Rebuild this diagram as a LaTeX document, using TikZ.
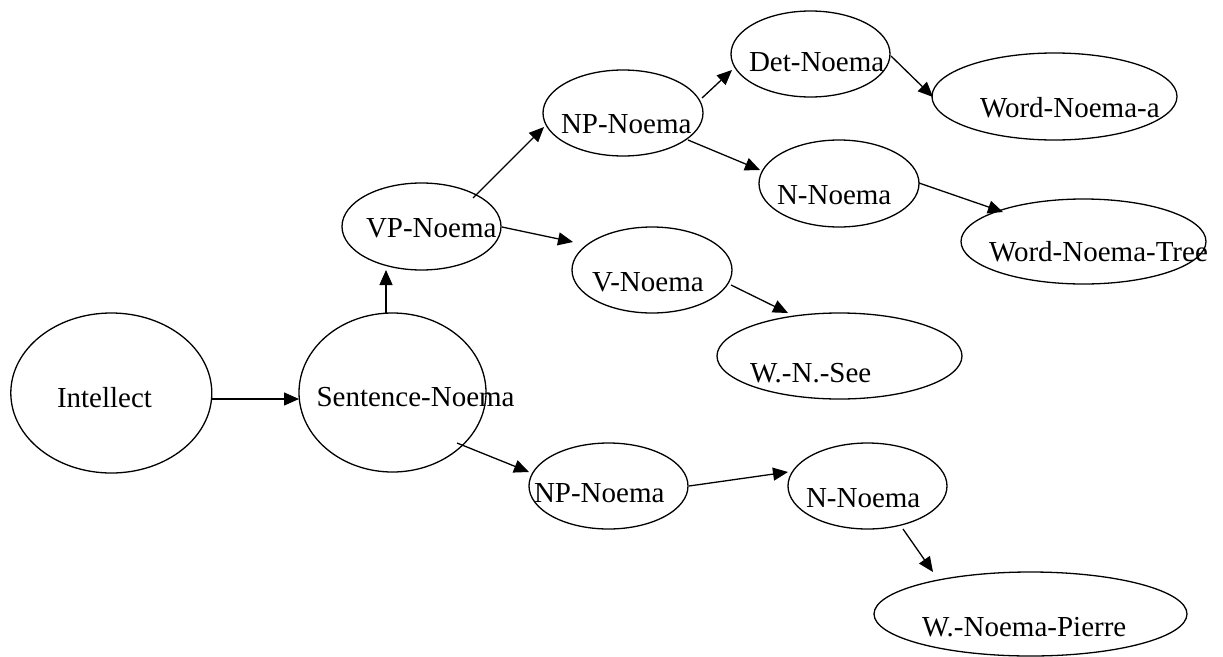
\documentclass[tikz,border=0pt]{standalone}
\usepackage{fontspec}
\setmainfont{Liberation Serif}
\usetikzlibrary{arrows.meta,shapes.geometric}
\begin{document}
\begin{tikzpicture}[x=1pt,y=-1pt,
  oval/.style 2 args={draw, ellipse, line width=1.3pt, inner sep=0pt, outer sep=0pt, minimum width=#1pt, minimum height=#2pt},
  lbl/.style={anchor=base west, inner sep=0pt, outer sep=0pt, font=\fontsize{29}{34}\selectfont},
  arr/.style={line width=1.3pt, -{Triangle[length=15pt,width=13pt]}}]
\useasboundingbox (0,0) rectangle (1223,656);
% ellipses
\node[oval={201}{160}] (int) at (111.3,393) {};
\node[oval={187}{159}] (sn) at (392.5,392.5) {};
\node[oval={159}{87}] (vp) at (421.5,226.5) {};
\node[oval={160}{86}] (np1) at (623,113) {};
\node[oval={159}{86}] (det) at (810.5,54) {};
\node[oval={245}{87}] (wa) at (1054.5,96.5) {};
\node[oval={160}{87}] (n1) at (839,183.5) {};
\node[oval={245}{85}] (wt) at (1083.5,241.5) {};
\node[oval={160}{86}] (v) at (652,270) {};
\node[oval={245}{86}] (see) at (839.5,356) {};
\node[oval={159}{86}] (np2) at (608.5,486) {};
\node[oval={159}{86}] (n2) at (867.5,486) {};
\node[oval={313}{84}] (pierre) at (1030.5,614) {};
% labels
\node[lbl] (tint) at (57,407) {Intellect};
\node[lbl] (tsn) at (316.5,406) {Sentence-Noema};
\node[lbl] (tvp) at (366,237) {VP-Noema};
\node[lbl] (tnp1) at (561,133) {NP-Noema};
\node[lbl] (tdet) at (749,71) {Det-Noema};
\node[lbl] (twa) at (980,117) {Word-Noema-a};
\node[lbl] (tn1) at (777,204) {N-Noema};
\node[lbl] (twt) at (989,261) {Word-Noema-Tree};
\node[lbl] (tv) at (592,291) {V-Noema};
\node[lbl] (tsee) at (750,382) {W.-N.-See};
\node[lbl] (tnp2) at (534,502) {NP-Noema};
\node[lbl] (tn2) at (806,507) {N-Noema};
\node[lbl] (tpierre) at (922,636) {W.-Noema-Pierre};
% connector end points
\coordinate (a1) at (212,399);   \coordinate (b1) at (299,399);
\coordinate (a2) at (386,313);   \coordinate (b2) at (386,270);
\coordinate (a3) at (473,198);   \coordinate (b3) at (544,127);
\coordinate (a4) at (502,227);   \coordinate (b4) at (573,242);
\coordinate (a5) at (702,98);    \coordinate (b5) at (732,70);
\coordinate (a6) at (891,56);    \coordinate (b6) at (933,97);
\coordinate (a7) at (688,140);   \coordinate (b7) at (760,170);
\coordinate (a8) at (919,183);   \coordinate (b8) at (1003,212);
\coordinate (a9) at (731,285);   \coordinate (b9) at (788,313);
\coordinate (a10) at (457,443);  \coordinate (b10) at (529,472);
\coordinate (a11) at (689,486);  \coordinate (b11) at (788,472);
\coordinate (a12) at (903,529);  \coordinate (b12) at (933,572);
% connectors
\draw[arr] (a1) -- (b1);
\draw[arr] (a2) -- (b2);
\draw[arr] (a3) -- (b3);
\draw[arr] (a4) -- (b4);
\draw[arr] (a5) -- (b5);
\draw[arr] (a6) -- (b6);
\draw[arr] (a7) -- (b7);
\draw[arr] (a8) -- (b8);
\draw[arr] (a9) -- (b9);
\draw[arr] (a10) -- (b10);
\draw[arr] (a11) -- (b11);
\draw[arr] (a12) -- (b12);
\end{tikzpicture}
\end{document}
